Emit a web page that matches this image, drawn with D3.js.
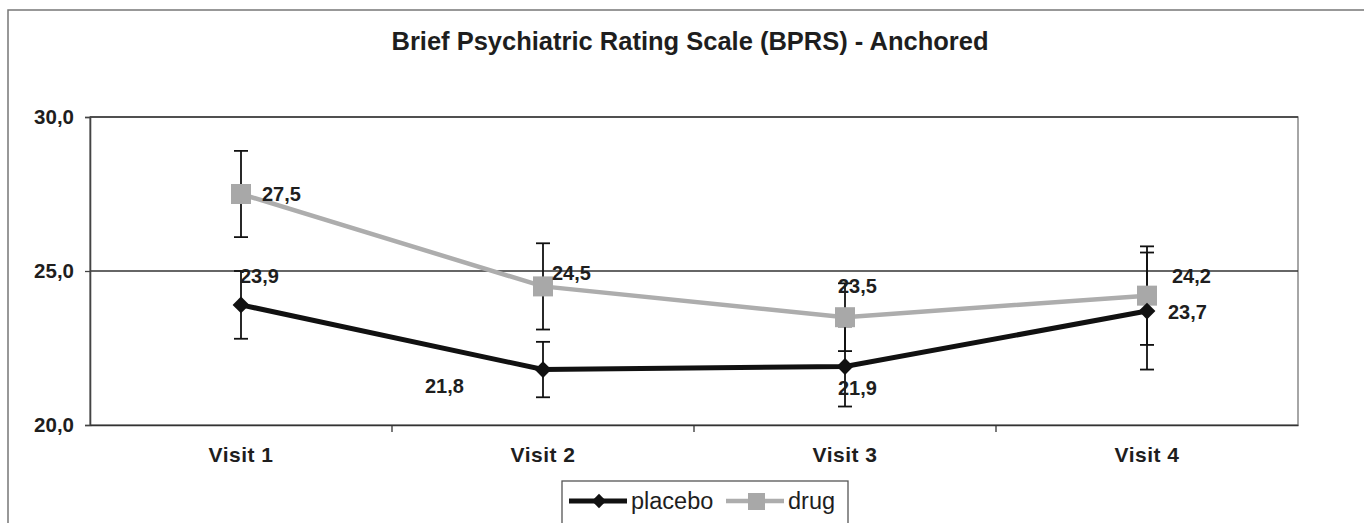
<!DOCTYPE html>
<html><head><meta charset="utf-8">
<script src="https://cdn.jsdelivr.net/npm/d3@7"></script>
<style>body{margin:0;background:#fff}svg{display:block}</style>
</head><body>
<script>
const categories = ["Visit 1","Visit 2","Visit 3","Visit 4"];
const placebo = [23.9, 21.8, 21.9, 23.7];
const drug = [27.5, 24.5, 23.5, 24.2];
const placeboErr = [1.1, 0.9, 1.3, 1.9];
const drugErr = [1.4, 1.4, 1.1, 1.6];
const yTicks = [20, 25, 30];
const title = "Brief Psychiatric Rating Scale (BPRS) - Anchored";

const W = 1364, H = 523;
const svg = d3.select("body").append("svg").attr("width", W).attr("height", H);
const m = {l: 90, r: 66, t: 117, b: 98};
const x = d3.scaleBand().domain(categories).range([m.l, W - m.r]);
const y = d3.scaleLinear().domain([20, 30]).range([H - m.b, m.t]);
const font = "'Liberation Sans', Arial, sans-serif";
const ink = "#1e1e1e";

// outer frame
svg.append("path").attr("d", `M8,${H} V10 H${W}`).attr("fill","none").attr("stroke","#777").attr("stroke-width",1.5);

svg.append("text").attr("x", 690).attr("y", 50).attr("text-anchor","middle")
  .attr("font-family", font).attr("font-weight","bold").attr("font-size", 25.5).attr("fill", ink).text(title);

// plot frame
svg.append("rect").attr("x", m.l).attr("y", m.t).attr("width", W - m.r - m.l).attr("height", H - m.b - m.t)
  .attr("fill","none").attr("stroke","#777").attr("stroke-width",1.3);

// gridlines
svg.append("g").selectAll("line").data(yTicks.filter(d => d > 20)).join("line")
  .attr("x1", m.l).attr("x2", W - m.r).attr("y1", d => y(d)).attr("y2", d => y(d))
  .attr("stroke","#333").attr("stroke-width",1.3);

// y axis
const ya = svg.append("g").attr("transform", `translate(${m.l},0)`)
  .call(d3.axisLeft(y).tickValues(yTicks).tickSize(5).tickPadding(11).tickFormat(d => d3.format(".1f")(d).replace(".", ",")));
ya.select(".domain").attr("stroke","#444").attr("stroke-width",1.6);
ya.selectAll("line").attr("stroke","#444").attr("stroke-width",1.3);
ya.selectAll("text").attr("font-family", font).attr("font-weight","bold").attr("font-size", 20.5).attr("fill", ink);

// x axis
const xa = svg.append("g").attr("transform", `translate(0,${y(20)})`)
  .call(d3.axisBottom(x).tickSize(0).tickPadding(22));
xa.select(".domain").attr("stroke","#333").attr("stroke-width",1.6);
xa.selectAll("text").attr("font-family", font).attr("font-weight","bold").attr("font-size", 21).attr("fill", ink).attr("letter-spacing", 0.5);
svg.append("g").selectAll("line").data(categories.slice(1)).join("line")
  .attr("x1", d => x(d)).attr("x2", d => x(d)).attr("y1", y(20)).attr("y2", y(20) + 7)
  .attr("stroke","#333").attr("stroke-width",1.3);

const cx = d => x(d) + x.bandwidth() / 2;
const line = d3.line().x((d, i) => cx(categories[i])).y(d => y(d));

function errBars(vals, errs) {
  const g = svg.append("g").attr("stroke","#111").attr("stroke-width",1.8);
  vals.forEach((v, i) => {
    const X = cx(categories[i]);
    g.append("line").attr("x1", X).attr("x2", X).attr("y1", y(v + errs[i])).attr("y2", y(v - errs[i]));
    [v + errs[i], v - errs[i]].forEach(e => g.append("line").attr("x1", X - 7).attr("x2", X + 7).attr("y1", y(e)).attr("y2", y(e)));
  });
}
errBars(drug, drugErr);
errBars(placebo, placeboErr);

// drug series
svg.append("path").datum(drug).attr("d", line).attr("fill","none").attr("stroke","#adadad").attr("stroke-width",4.5);
svg.append("g").selectAll("rect").data(drug).join("rect")
  .attr("x", (d, i) => cx(categories[i]) - 10).attr("y", d => y(d) - 10).attr("width",20).attr("height",20).attr("fill","#a8a8a8");

// placebo series
svg.append("path").datum(placebo).attr("d", line).attr("fill","none").attr("stroke","#111").attr("stroke-width",5);
const diamond = d3.symbol().type(d3.symbolDiamond2).size(180);
svg.append("g").selectAll("path").data(placebo).join("path")
  .attr("transform", (d, i) => `translate(${cx(categories[i])},${y(d)})`).attr("d", diamond()).attr("fill","#111");

// data labels (offsets from point to text start / baseline)
const fmt = v => d3.format(".1f")(v).replace(".", ",");
const drugOff = [[21, 7], [9, -6], [-7, -24], [25, -13]];
const placOff = [[-1, -22], [-118, 23], [-7, 29], [21, 8]];
function labels(vals, offs) {
  svg.append("g").selectAll("text").data(vals).join("text")
    .attr("x", (d, i) => cx(categories[i]) + offs[i][0]).attr("y", (d, i) => y(d) + offs[i][1])
    .attr("font-family", font).attr("font-weight","bold").attr("font-size", 20).attr("fill", ink).text(fmt);
}
labels(drug, drugOff);
labels(placebo, placOff);

// legend
const lg = svg.append("g");
lg.append("rect").attr("x", 562).attr("y", 481).attr("width", 286).attr("height", 60).attr("fill","#fff").attr("stroke","#555").attr("stroke-width",1.3);
const ly = 501;
lg.append("line").attr("x1", 569).attr("x2", 627).attr("y1", ly).attr("y2", ly).attr("stroke","#111").attr("stroke-width",5);
lg.append("path").attr("transform", `translate(599,${ly})`).attr("d", d3.symbol().type(d3.symbolDiamond2).size(130)()).attr("fill","#111");
lg.append("text").attr("x", 631).attr("y", ly + 8).attr("font-family", font).attr("font-size", 23.5).attr("fill", ink).text("placebo");
lg.append("line").attr("x1", 726).attr("x2", 784).attr("y1", ly).attr("y2", ly).attr("stroke","#adadad").attr("stroke-width",4.5);
lg.append("rect").attr("x", 748).attr("y", ly - 8).attr("width",17).attr("height",17).attr("fill","#a8a8a8");
lg.append("text").attr("x", 788).attr("y", ly + 8).attr("font-family", font).attr("font-size", 23.5).attr("fill", ink).text("drug");
</script>
</body></html>
